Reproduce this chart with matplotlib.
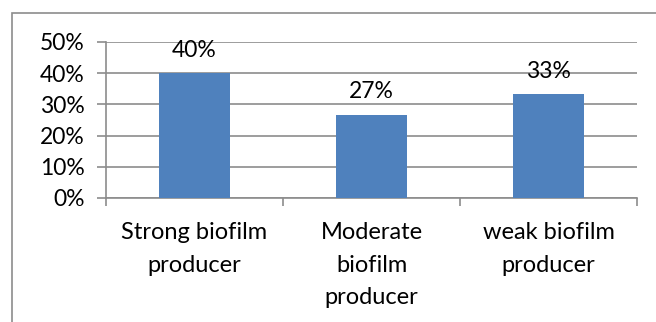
import matplotlib.pyplot as plt
import matplotlib.patches as mpatches
import numpy as np

categories = ['Strong biofilm\nproducer', 'Moderate\nbiofilm\nproducer', 'weak biofilm\nproducer']
values = [40.0, 26.7, 33.3]
value_labels = ['40%', '27%', '33%']
yticks = [0, 10, 20, 30, 40, 50]

plt.rcParams['font.family'] = ['Lato', 'DejaVu Sans']
fs = 16.5

W, H = 656, 322
fig = plt.figure(figsize=(W / 100, H / 100), dpi=100)
ax = fig.add_axes([106 / W, 1 - 198 / H, (637 - 106) / W, (198 - 42) / H])

# outer chart border (runs off right/bottom of the picture)
fig.patches.append(mpatches.Rectangle((12 / W, -0.1), 1.1, 1 - 12.5 / H + 0.1,
                                      transform=fig.transFigure, fill=False,
                                      edgecolor='#8c8c8c', linewidth=1.2))

x = np.arange(len(categories))
ax.bar(x, values, width=0.4, color='#4f81bd', zorder=3)
for xi, v, lab in zip(x, values, value_labels):
    ax.annotate(lab, (xi, v), xytext=(0, 9), textcoords='offset points',
                ha='center', va='bottom', fontsize=fs, color='black')

ax.set_xlim(-0.5, len(categories) - 0.5)
ax.set_ylim(0, 50)
ax.set_yticks(yticks)
ax.set_yticklabels([f'{t}%' for t in yticks], fontsize=fs)
ax.yaxis.grid(True, color='#8c8c8c', linewidth=1.2, zorder=0)
ax.set_axisbelow(True)

ax.set_xticks(x)
ax.set_xticklabels(categories, fontsize=17, linespacing=1.7)
ax.tick_params(axis='x', length=0, pad=17)
ax.set_xticks(np.arange(len(categories) + 1) - 0.5, minor=True)
ax.tick_params(axis='x', which='minor', length=6, color='#8c8c8c', width=1.2)
ax.tick_params(axis='y', length=6.5, color='#8c8c8c', width=1.2, pad=9)

for side in ['top', 'right']:
    ax.spines[side].set_visible(False)
for side in ['left', 'bottom']:
    ax.spines[side].set_color('#8c8c8c')
    ax.spines[side].set_linewidth(1.2)

fig.savefig('out.png', dpi=100, facecolor='white')
